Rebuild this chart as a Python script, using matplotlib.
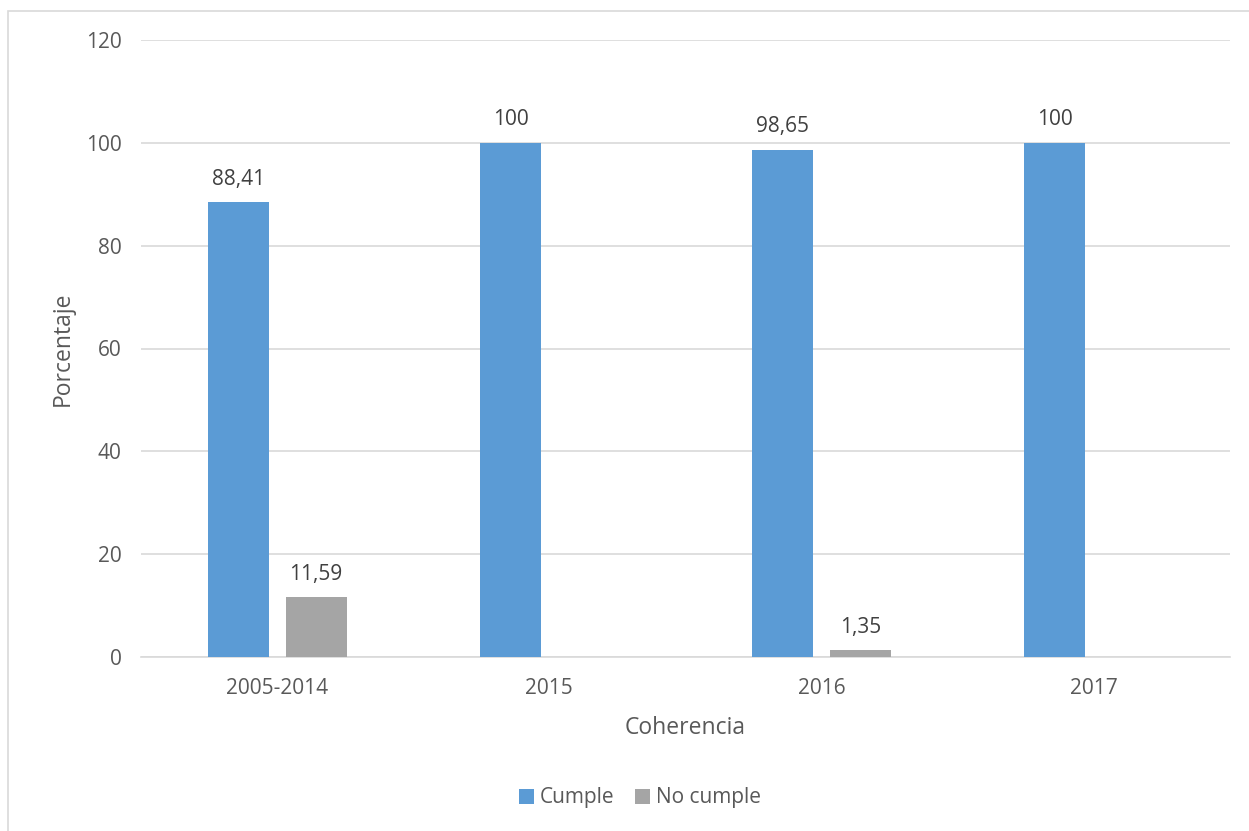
import numpy as np
import matplotlib.pyplot as plt
from matplotlib.patches import Rectangle

plt.rcParams["font.family"] = ["Open Sans", "DejaVu Sans"]

categories = ["2005-2014", "2015", "2016", "2017"]
cumple = [88.41, 100, 98.65, 100]
no_cumple = [11.59, 0, 1.35, 0]
labels_cumple = ["88,41", "100", "98,65", "100"]
labels_no_cumple = ["11,59", "", "1,35", ""]

blue = "#5B9BD5"
gray = "#A5A5A5"
text_color = "#595959"
grid_color = "#D9D9D9"

fig = plt.figure(figsize=(12.49, 8.31), dpi=100)
fig.patches.append(Rectangle((8 / 1249, -0.1), 1.2, 1 - 11 / 831 + 0.1,
                             transform=fig.transFigure, fill=False,
                             edgecolor="#D9D9D9", linewidth=1.2))

ax = fig.add_axes([141 / 1249, 1 - 657 / 831, (1230 - 141) / 1249, (657 - 40) / 831])

x = np.arange(len(categories))
width = 0.224
off = 0.143

b1 = ax.bar(x - off, cumple, width, color=blue, label="Cumple", zorder=3)
b2 = ax.bar(x + off, no_cumple, width, color=gray, label="No cumple", zorder=3)

# value labels, skipping empty series entries
for bars, labs in [(b1, labels_cumple), (b2, labels_no_cumple)]:
    for rect, lab in zip(bars, labs):
        if not lab:
            continue
        ax.annotate(lab, (rect.get_x() + rect.get_width() / 2, rect.get_height()),
                    xytext=(0, 9), textcoords="offset points",
                    ha="center", va="bottom", fontsize=15, color="#404040")

ax.set_xlim(-0.5, len(categories) - 0.5)
ax.set_ylim(0, 120)
ax.set_yticks(range(0, 121, 20))
ax.set_xticks(x)
ax.set_xticklabels(categories)
ax.tick_params(axis="both", length=0, labelsize=15, colors=text_color)
ax.tick_params(axis="x", pad=15)
ax.tick_params(axis="y", pad=14)

ax.grid(axis="y", color=grid_color, linewidth=1.2, zorder=0)
for s in ["top", "right", "left"]:
    ax.spines[s].set_visible(False)
ax.spines["bottom"].set_color(grid_color)
ax.spines["bottom"].set_linewidth(1.2)

ax.set_ylabel("Porcentaje", fontsize=16.5, color=text_color, labelpad=8)
ax.set_xlabel("Coherencia", fontsize=16.5, color=text_color, labelpad=12)

fig.legend(handles=[b1, b2], loc="center", bbox_to_anchor=(640 / 1249, 1 - 798 / 831),
           ncol=2, frameon=False, fontsize=15, labelcolor=text_color,
           handlelength=0.7, handleheight=0.7, handletextpad=0.3, columnspacing=1.0)

fig.savefig("out.png", dpi=100)
